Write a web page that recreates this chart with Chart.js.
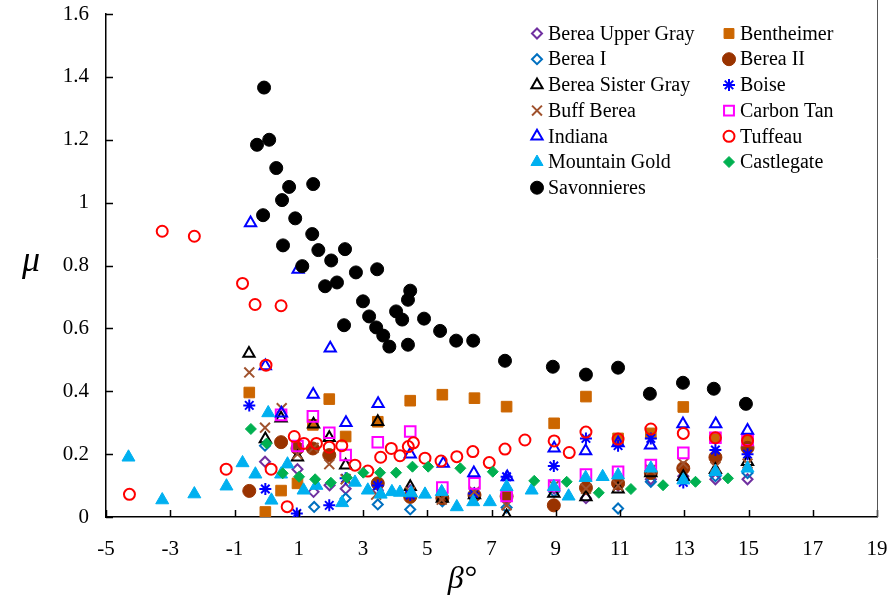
<!DOCTYPE html>
<html>
<head>
<meta charset="utf-8">
<script src="https://cdn.jsdelivr.net/npm/chart.js@4.4.1/dist/chart.umd.min.js"></script>
<style>
    html, body { margin: 0; padding: 0; background: #fff; }
    #wrap { width: 893px; height: 603px; position: relative; }
</style>
</head>
<body>
<div id="wrap"><canvas id="frictionChart"></canvas></div>
<script>
// Series values: [beta (deg), mu]
const bereaUpperGray = [[-0.05,0.176],[0.96,0.152],[1.46,0.08],[1.96,0.101],[2.46,0.09],[3.46,0.085],[4.47,0.085],[5.47,0.06],[6.47,0.07],[7.47,0.06],[8.95,0.09],[9.94,0.06],[10.94,0.1],[11.96,0.12],[12.97,0.13],[13.97,0.12],[14.97,0.12]];
const bentheimer = [[-0.54,0.396],[-0.04,0.016],[0.45,0.084],[0.96,0.107],[1.44,0.293],[1.95,0.375],[2.46,0.256],[3.46,0.303],[4.47,0.37],[5.47,0.389],[6.47,0.378],[7.47,0.351],[8.95,0.298],[9.94,0.383],[10.94,0.25],[11.96,0.266],[12.97,0.35],[13.97,0.252],[14.97,0.245]];
const bereaI = [[-0.05,0.227],[1.48,0.032],[2.46,0.059],[3.46,0.04],[4.47,0.024],[5.47,0.05],[6.47,0.06],[7.47,0.03],[8.95,0.08],[10.94,0.027],[11.96,0.112],[12.97,0.12],[13.97,0.13],[14.97,0.14]];
const bereaII = [[-0.54,0.083],[0.45,0.238],[0.96,0.218],[1.44,0.218],[1.95,0.197],[3.46,0.107],[4.47,0.064],[5.47,0.06],[6.47,0.07],[7.47,0.066],[8.94,0.037],[9.94,0.093],[10.94,0.107],[11.96,0.14],[12.97,0.155],[13.97,0.19],[14.97,0.22]];
const bereaSisterGray = [[-0.55,0.52],[-0.04,0.248],[0.45,0.314],[0.96,0.19],[1.46,0.295],[1.95,0.252],[2.46,0.165],[3.46,0.303],[4.47,0.096],[5.47,0.059],[6.47,0.07],[7.47,0.003],[8.94,0.075],[9.94,0.064],[10.94,0.088],[11.96,0.14],[12.97,0.128],[13.97,0.15],[14.97,0.176]];
const boise = [[-0.54,0.355],[-0.04,0.089],[0.94,0.011],[1.95,0.037],[2.46,0.123],[3.46,0.1],[4.47,0.07],[6.45,0.075],[7.47,0.128],[8.94,0.162],[9.94,0.25],[10.94,0.227],[11.96,0.25],[12.97,0.11],[13.97,0.213],[14.97,0.2]];
const buffBerea = [[-0.54,0.46],[-0.05,0.284],[0.47,0.346],[0.96,0.2],[1.46,0.22],[1.95,0.168],[2.46,0.12],[3.41,0.071],[4.47,0.08],[5.45,0.055],[6.47,0.08],[7.47,0.037],[8.95,0.1],[9.94,0.09],[10.94,0.1],[11.96,0.15],[12.97,0.17],[13.97,0.16],[14.97,0.17]];
const carbonTan = [[0.45,0.325],[0.96,0.226],[1.44,0.32],[1.95,0.268],[2.46,0.197],[3.46,0.238],[4.47,0.272],[5.47,0.094],[6.47,0.107],[7.47,0.067],[8.95,0.1],[9.94,0.135],[10.94,0.144],[11.96,0.165],[12.97,0.204],[13.97,0.252],[14.97,0.245]];
const indiana = [[-0.5,0.935],[-0.04,0.48],[0.46,0.33],[0.98,0.787],[1.45,0.39],[1.98,0.537],[2.47,0.30],[3.47,0.36],[4.47,0.20],[5.5,0.17],[6.45,0.14],[7.49,0.127],[8.95,0.219],[9.93,0.21],[10.94,0.235],[11.95,0.228],[12.96,0.296],[13.98,0.296],[14.97,0.275]];
const tuffeau = [[-4.27,0.072],[-3.25,0.909],[-2.25,0.893],[-1.26,0.152],[-0.75,0.743],[-0.36,0.676],[-0.02,0.483],[0.14,0.152],[0.45,0.672],[0.64,0.033],[0.86,0.256],[1.16,0.234],[1.55,0.234],[1.95,0.222],[2.34,0.227],[2.75,0.165],[3.15,0.146],[3.55,0.19],[3.88,0.218],[4.15,0.195],[4.41,0.224],[4.57,0.236],[4.93,0.187],[5.43,0.178],[5.92,0.192],[6.42,0.208],[6.93,0.173],[7.42,0.216],[8.04,0.245],[8.95,0.242],[9.42,0.205],[9.94,0.27],[10.94,0.248],[11.96,0.28],[12.97,0.266],[13.97,0.252],[14.97,0.243]];
const mountainGold = [[-4.3,0.19],[-3.25,0.054],[-2.25,0.073],[-1.25,0.098],[-0.75,0.172],[-0.35,0.136],[0.05,0.331],[0.15,0.053],[0.45,0.136],[0.65,0.168],[1.15,0.085],[1.55,0.10],[2.35,0.045],[2.75,0.11],[3.15,0.085],[3.55,0.072],[3.9,0.08],[4.15,0.078],[4.5,0.076],[4.93,0.072],[5.45,0.08],[5.92,0.032],[6.43,0.048],[6.95,0.048],[7.47,0.096],[8.25,0.085],[8.94,0.096],[9.4,0.066],[9.93,0.125],[10.46,0.128],[10.94,0.133],[11.96,0.155],[12.97,0.117],[13.97,0.144],[14.97,0.155]];
const castlegate = [[-0.49,0.28],[0.0,0.234],[0.5,0.139],[1.01,0.128],[1.51,0.12],[2.0,0.109],[2.5,0.125],[3.01,0.141],[3.53,0.141],[4.03,0.141],[4.54,0.16],[5.03,0.16],[6.03,0.155],[7.04,0.144],[8.33,0.115],[9.34,0.112],[10.34,0.077],[11.34,0.089],[12.34,0.101],[13.35,0.112],[14.36,0.123]];
const savonnieres = [[-0.30,1.184],[-0.11,0.96],[-0.08,1.366],[0.08,1.20],[0.30,1.11],[0.48,1.008],[0.51,0.864],[0.70,1.05],[0.89,0.95],[1.11,0.798],[1.42,0.90],[1.45,1.059],[1.61,0.849],[1.82,0.734],[2.01,0.816],[2.19,0.746],[2.41,0.61],[2.44,0.852],[2.78,0.778],[3.0,0.686],[3.19,0.638],[3.41,0.603],[3.44,0.788],[3.63,0.577],[3.82,0.542],[4.03,0.654],[4.22,0.628],[4.40,0.691],[4.47,0.72],[4.40,0.548],[4.90,0.631],[5.40,0.592],[5.90,0.561],[6.43,0.561],[7.42,0.497],[8.91,0.478],[9.94,0.453],[10.94,0.475],[11.93,0.392],[12.96,0.427],[13.92,0.408],[14.92,0.360]];

// Axis ticks
const xTicks = [-5, -3, -1, 1, 3, 5, 7, 9, 11, 13, 15, 17, 19];
const yTicks = [0, 0.2, 0.4, 0.6, 0.8, 1, 1.2, 1.4, 1.6];

const SERIF = '"Liberation Serif", "Times New Roman", serif';

// series list in legend order (row by row, two columns)
const seriesList = [
    { label: 'Berea Upper Gray', data: bereaUpperGray, style: 'rectRot', r: 5, color: '#7030A0', filled: false },
    { label: 'Bentheimer', data: bentheimer, style: 'rect', r: 7.5, color: '#CC6600', filled: true },
    { label: 'Berea I', data: bereaI, style: 'rectRot', r: 5, color: '#0070C0', filled: false },
    { label: 'Berea II', data: bereaII, style: 'circle', r: 6.5, color: '#993300', filled: true },
    { label: 'Berea Sister Gray', data: bereaSisterGray, style: 'triangle', r: 6.5, color: '#000000', filled: false },
    { label: 'Boise', data: boise, style: 'star', r: 6, color: '#0000FF', filled: false },
    { label: 'Buff Berea', data: buffBerea, style: 'crossRot', r: 7, color: '#A0522D', filled: false },
    { label: 'Carbon Tan', data: carbonTan, style: 'rect', r: 7.5, color: '#FF00FF', filled: false },
    { label: 'Indiana', data: indiana, style: 'triangle', r: 6.5, color: '#0000FF', filled: false },
    { label: 'Tuffeau', data: tuffeau, style: 'circle', r: 5.5, color: '#FF0000', filled: false },
    { label: 'Mountain Gold', data: mountainGold, style: 'triangle', r: 7.5, color: '#00B0F0', filled: true },
    { label: 'Castlegate', data: castlegate, style: 'rectRot', r: 5.5, color: '#00B050', filled: true },
    { label: 'Savonnieres', data: savonnieres, style: 'circle', r: 6.5, color: '#000000', filled: true }
];

// Inward tick marks, frame line, axis titles and the two-column legend
const decorPlugin = {
    id: 'decor',
    afterDraw(chart) {
        const ctx = chart.ctx;
        const area = chart.chartArea;
        const xs = chart.scales.x;
        const ys = chart.scales.y;

        ctx.save();
        ctx.strokeStyle = '#000';
        ctx.lineWidth = 1.5;
        ctx.beginPath();
        xTicks.forEach(v => {
            const px = Math.round(xs.getPixelForValue(v)) + 0.5;
            ctx.moveTo(px, area.bottom);
            ctx.lineTo(px, area.bottom - 7);
        });
        yTicks.forEach(v => {
            const py = Math.round(ys.getPixelForValue(v)) + 0.5;
            ctx.moveTo(area.left, py);
            ctx.lineTo(area.left + 7, py);
        });
        ctx.stroke();

        // thin outer frame on the right side
        ctx.strokeStyle = '#555';
        ctx.lineWidth = 1;
        ctx.beginPath();
        ctx.moveTo(area.right + 0.5, 0);
        ctx.lineTo(area.right + 0.5, area.bottom);
        ctx.stroke();

        // axis titles
        ctx.fillStyle = '#000';
        ctx.textAlign = 'center';
        ctx.textBaseline = 'middle';
        ctx.font = 'italic 36px ' + SERIF;
        ctx.fillText('\u03BC', 31, 262);
        ctx.font = 'italic 32px ' + SERIF;
        ctx.fillText('\u03B2\u00B0', 462, 580);

        // legend
        ctx.font = '20px ' + SERIF;
        ctx.textAlign = 'left';
        chart.data.datasets.forEach((ds, i) => {
            const col = i % 2;
            const row = Math.floor(i / 2);
            const mx = col === 0 ? 537 : 729;
            const my = 33.5 + row * 25.7;
            ctx.fillStyle = ds.pointBackgroundColor;
            ctx.strokeStyle = ds.pointBorderColor;
            ctx.lineWidth = ds.pointBorderWidth;
            Chart.helpers.drawPoint(ctx, {
                pointStyle: ds.pointStyle,
                radius: Math.min(ds.pointRadius, 7),
                rotation: 0,
                borderWidth: ds.pointBorderWidth
            }, mx, my);
            ctx.fillStyle = '#000';
            ctx.fillText(ds.label, mx + 11, my + 1);
        });
        ctx.restore();
    }
};

const ctx = document.getElementById('frictionChart');
new Chart(ctx, {
    type: 'scatter',
    data: {
        datasets: seriesList.map((s, i) => ({
            label: s.label,
            data: s.data.map(p => ({ x: p[0], y: p[1] })),
            pointStyle: s.style,
            pointRadius: s.r,
            pointHoverRadius: s.r,
            pointBackgroundColor: s.filled ? s.color : 'rgba(0,0,0,0)',
            pointBorderColor: s.color,
            pointBorderWidth: s.filled ? 1 : 2,
            order: -i
        }))
    },
    options: {
        responsive: true,
        maintainAspectRatio: false,
        animation: false,
        layout: { padding: { left: 0, top: 14, right: 16, bottom: 0 } },
        plugins: {
            legend: { display: false },
            tooltip: { enabled: false }
        },
        scales: {
            x: {
                type: 'linear',
                min: -5,
                max: 19,
                afterBuildTicks: axis => { axis.ticks = xTicks.map(v => ({ value: v })); },
                grid: { display: false, drawTicks: false },
                border: { display: true, color: '#000', width: 1.5 },
                ticks: {
                    padding: 20,
                    color: '#000',
                    font: { family: SERIF, size: 21 },
                    callback: v => String(v)
                },
                afterFit: axis => {
                    axis.height = 86;
                    axis.paddingLeft = 0;
                    axis.paddingRight = 0;
                }
            },
            y: {
                type: 'linear',
                min: 0,
                max: 1.6,
                afterBuildTicks: axis => { axis.ticks = yTicks.map(v => ({ value: v })); },
                grid: { display: false, drawTicks: false },
                border: { display: true, color: '#000', width: 1.5 },
                ticks: {
                    padding: 17,
                    color: '#000',
                    font: { family: SERIF, size: 21 },
                    callback: v => String(+v.toFixed(1))
                },
                afterFit: axis => {
                    axis.width = 106;
                    axis.paddingTop = 0;
                    axis.paddingBottom = 0;
                }
            }
        }
    },
    plugins: [decorPlugin]
});
</script>
</body>
</html>
